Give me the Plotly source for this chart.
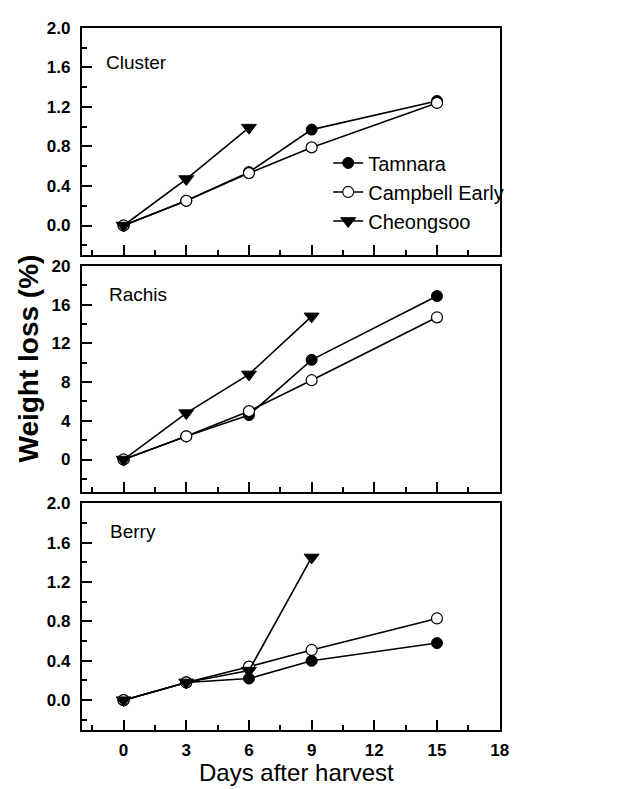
import plotly.graph_objects as go

days = [0, 3, 6, 9, 15]
days_cheong = [0, 3, 6, 9]

cultivars = ["Tamnara", "Campbell Early", "Cheongsoo"]
panels = ["Cluster", "Rachis", "Berry"]

cluster_tamnara = [0.0, 0.25, 0.54, 0.97, 1.26]
cluster_campbell = [0.0, 0.25, 0.53, 0.79, 1.24]
cluster_cheongsoo = [0.0, 0.47, 0.99]

rachis_tamnara = [0.0, 2.4, 4.6, 10.3, 16.9]
rachis_campbell = [0.0, 2.4, 5.0, 8.2, 14.7]
rachis_cheongsoo = [0.0, 4.8, 8.8, 14.8]

berry_tamnara = [0.0, 0.18, 0.22, 0.40, 0.58]
berry_campbell = [0.0, 0.18, 0.34, 0.51, 0.83]
berry_cheongsoo = [0.0, 0.18, 0.30, 1.45]

y_ranges = [[-0.3, 2.0], [-3.4, 20], [-0.3, 2.0]]
y_dticks = [0.4, 4, 0.4]
y_formats = [".1f", "d", ".1f"]

data = [
    (cluster_tamnara, cluster_campbell, cluster_cheongsoo),
    (rachis_tamnara, rachis_campbell, rachis_cheongsoo),
    (berry_tamnara, berry_campbell, berry_cheongsoo),
]

W, H = 622, 789
x0, x1 = 83 / W, 507 / W
panel_px = [(19, 249), (260, 489), (500, 729)]

FONT = "Liberation Sans, Arial, sans-serif"

fig = go.Figure()
for i, (tam, camp, che) in enumerate(data):
    xa = "x" if i == 0 else f"x{i+1}"
    ya = "y" if i == 0 else f"y{i+1}"
    show = i == 0
    fig.add_trace(go.Scatter(
        x=days[:len(tam)], y=tam, mode="lines+markers", name=cultivars[0],
        line=dict(color="black", width=1.6),
        marker=dict(symbol="circle", size=11, color="black", line=dict(color="black", width=1)),
        xaxis=xa, yaxis=ya, showlegend=show, legendrank=1))
    fig.add_trace(go.Scatter(
        x=days[:len(camp)], y=camp, mode="lines+markers", name=cultivars[1],
        line=dict(color="black", width=1.6),
        marker=dict(symbol="circle", size=11, color="white", line=dict(color="black", width=1.2)),
        xaxis=xa, yaxis=ya, showlegend=show, legendrank=2))
    fig.add_trace(go.Scatter(
        x=days_cheong[:len(che)], y=che, mode="lines+markers", name=cultivars[2],
        line=dict(color="black", width=1.6),
        marker=dict(symbol="triangle-down", size=13, color="black", line=dict(color="black", width=1)),
        xaxis=xa, yaxis=ya, showlegend=show, legendrank=3))

layout = dict(
    width=W, height=H, autosize=False,
    margin=dict(l=0, r=0, t=0, b=0),
    paper_bgcolor="white", plot_bgcolor="white",
    font=dict(family=FONT, color="black"),
    showlegend=True,
    legend=dict(x=333 / W, xanchor="left", y=1 - 136 / H, yanchor="top",
                bgcolor="rgba(0,0,0,0)", font=dict(size=20, family=FONT),
                itemwidth=30, tracegroupgap=0),
)

for i, (top, bot) in enumerate(panel_px):
    suffix = "" if i == 0 else str(i + 1)
    ydom = [1 - bot / H, 1 - top / H]
    layout[f"xaxis{suffix}"] = dict(
        domain=[x0, x1], range=[-2, 18], anchor=f"y{suffix}",
        tick0=0, dtick=3, ticks="inside", ticklen=10, tickwidth=1.5, tickcolor="black",
        minor=dict(ticks="inside", ticklen=5, tickwidth=1.5, tickcolor="black", dtick=1.5, tick0=0),
        showline=True, linewidth=2, linecolor="black", mirror=True,
        showgrid=False, zeroline=False,
        showticklabels=(i == 2),
        tickfont=dict(size=17, family=FONT, weight="bold"),
        ticklabelstandoff=4,
    )
    layout[f"yaxis{suffix}"] = dict(
        domain=ydom, range=y_ranges[i], anchor=f"x{suffix}",
        tick0=0, dtick=y_dticks[i], tickformat=y_formats[i],
        ticks="inside", ticklen=10, tickwidth=1.5, tickcolor="black",
        minor=dict(ticks="inside", ticklen=5, tickwidth=1.5, tickcolor="black",
                   dtick=y_dticks[i] / 2, tick0=0),
        showline=True, linewidth=2, linecolor="black", mirror=True,
        showgrid=False, zeroline=False,
        tickfont=dict(size=17, family=FONT, weight="bold"),
        ticklabelstandoff=6,
    )

fig.update_layout(**layout)

label_pos = [(106, 54), (109, 289), (110, 529)]
for name, (px, py) in zip(panels, label_pos):
    fig.add_annotation(text=name, xref="paper", yref="paper",
                       x=px / W, y=1 - py / H, xanchor="left", yanchor="middle",
                       showarrow=False, font=dict(size=19, family=FONT))

fig.add_annotation(text="Days after harvest", xref="paper", yref="paper",
                   x=301 / W, y=1 / H, xanchor="center", yanchor="bottom",
                   showarrow=False, font=dict(size=24, family=FONT))
fig.add_annotation(text="<b>Weight loss (%)</b>", xref="paper", yref="paper",
                   x=29 / W, y=1 - 354 / H, xanchor="center", yanchor="middle",
                   textangle=-90, showarrow=False, font=dict(size=28, family=FONT))

fig.write_html("out.html")
